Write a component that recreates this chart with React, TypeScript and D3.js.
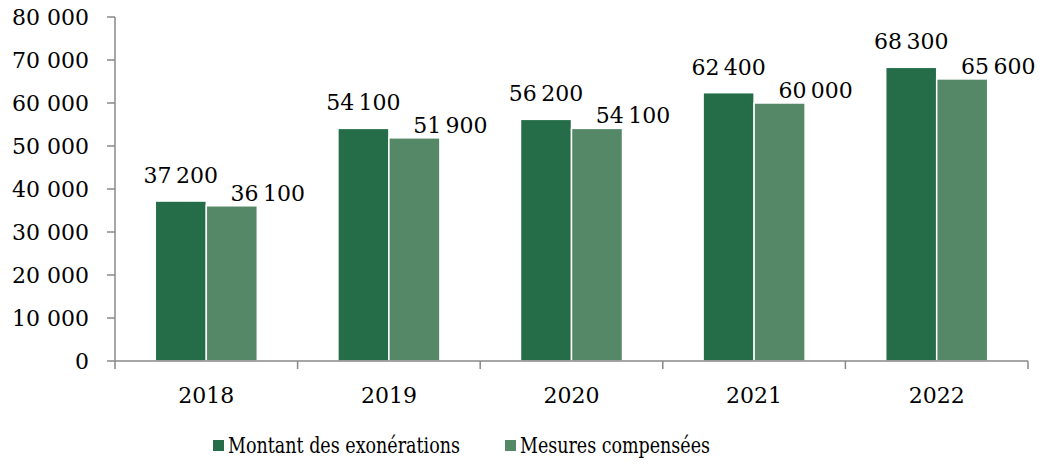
import React from "react";
import * as d3 from "d3";

const years = ["2018", "2019", "2020", "2021", "2022"];
const montant = [37200, 54100, 56200, 62400, 68300];
const compensees = [36100, 51900, 54100, 60000, 65600];
const seriesNames = ["Montant des exonérations", "Mesures compensées"];
const colors = ["#256d48", "#558867"];
const yTicks = [0, 10000, 20000, 30000, 40000, 50000, 60000, 70000, 80000];

const W = 1040, H = 466;
const left = 115, right = 1028, top = 17, bottom = 361;
const FONT = "'DejaVu Serif', serif";

const fmtAxis = (v: number) => d3.format(",")(v).replace(/,/g, " ");
const fmtLabel = (v: number) => d3.format(",")(v).replace(/,/g, "\u2009");

export default function App() {
  const x0 = d3.scaleBand<string>().domain(years).range([left, right]).padding(0);
  const x1 = d3.scaleBand<string>().domain(seriesNames).range([0, x0.bandwidth()]).paddingInner(0).paddingOuter(0.79);
  const y = d3.scaleLinear().domain([0, 80000]).range([bottom, top]);
  const seriesData = [montant, compensees];

  return (
    <svg width={W} height={H} style={{ position: "absolute", left: 0, top: 0, background: "#fff" }} fontFamily={FONT}>
      {years.map((yr, i) => (
        <g key={yr} transform={`translate(${x0(yr)},0)`}>
          {seriesNames.map((s, j) => {
            const v = seriesData[j][i];
            const bx = x1(s)!;
            return (
              <rect key={s} x={bx} y={y(v)} width={x1.bandwidth()} height={bottom - y(v)}
                fill={colors[j]} stroke="#fff" strokeWidth={1.5} />
            );
          })}
          {seriesNames.map((s, j) => {
            const v = seriesData[j][i];
            const cx = x1(s)! + x1.bandwidth() / 2 + (j === 0 ? 0 : 36);
            const by = j === 0 ? y(v) - 18 : y(v) - 5;
            return (
              <text key={s + "l"} x={cx} y={by} textAnchor="middle" fontSize={22} fill="#000">{fmtLabel(v)}</text>
            );
          })}
        </g>
      ))}
      {/* Y axis */}
      <line x1={left} x2={left} y1={top} y2={bottom} stroke="#898989" strokeWidth={1.5} />
      {yTicks.map(t => (
        <g key={t}>
          <line x1={left - 8} x2={left} y1={y(t)} y2={y(t)} stroke="#898989" strokeWidth={1.5} />
          <text x={89} y={y(t)} dy="0.36em" textAnchor="end" fontSize={22} fill="#000">{fmtAxis(t)}</text>
        </g>
      ))}
      {/* X axis */}
      <line x1={left} x2={right} y1={bottom} y2={bottom} stroke="#898989" strokeWidth={1.5} />
      {[...years.map(yr => x0(yr)!), right].map((xv, i) => (
        <line key={i} x1={xv} x2={xv} y1={bottom} y2={bottom + 8} stroke="#898989" strokeWidth={1.5} />
      ))}
      {years.map(yr => (
        <text key={yr} x={x0(yr)! + x0.bandwidth() / 2} y={403} textAnchor="middle" fontSize={22} fill="#000">{yr}</text>
      ))}
      {/* Legend */}
      {seriesNames.map((s, j) => {
        const lx = j === 0 ? 213 : 505;
        const len = j === 0 ? 232 : 190;
        return (
          <g key={s}>
            <rect x={lx} y={440} width={11} height={11} fill={colors[j]} />
            <text x={lx + 15} y={453} fontSize={22} fill="#000" textLength={len} lengthAdjust="spacingAndGlyphs">{s}</text>
          </g>
        );
      })}
    </svg>
  );
}
